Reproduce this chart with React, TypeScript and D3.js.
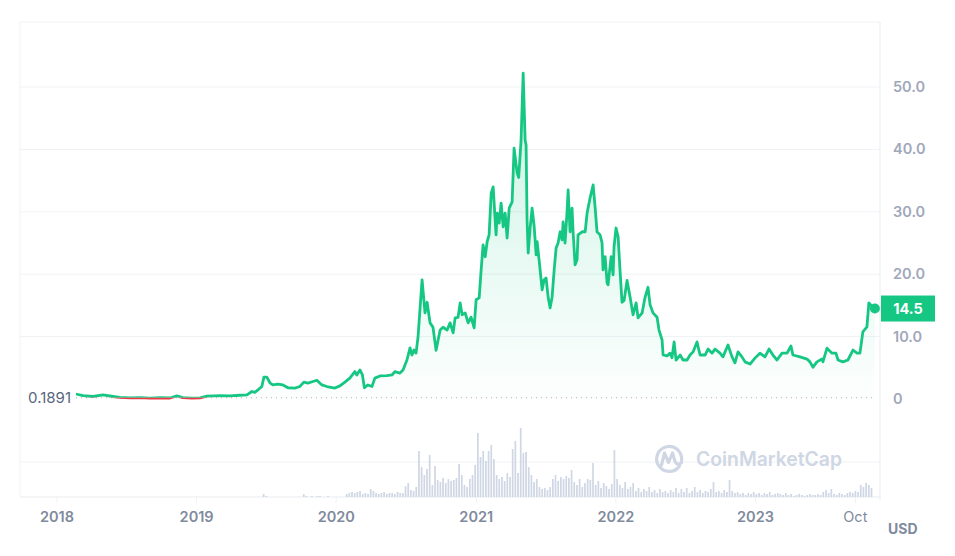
import React from "react";
import * as d3 from "d3";

// ---- data (decimal year, price USD) ----
const priceSeries: [number, number][] = [
  [2018.136, 0.8], [2018.186, 0.55], [2018.258, 0.4], [2018.329, 0.65], [2018.401, 0.4], [2018.451, 0.25],
  [2018.523, 0.17], [2018.594, 0.22], [2018.666, 0.15], [2018.737, 0.2], [2018.809, 0.16], [2018.859, 0.5],
  [2018.902, 0.22], [2018.966, 0.15], [2019.024, 0.18], [2019.074, 0.45], [2019.167, 0.55], [2019.238, 0.5],
  [2019.31, 0.6], [2019.36, 0.65], [2019.396, 1.2], [2019.417, 1.05], [2019.439, 1.45], [2019.467, 2.0],
  [2019.482, 3.5], [2019.503, 3.5], [2019.525, 2.6], [2019.546, 2.25], [2019.582, 2.4], [2019.618, 2.25],
  [2019.654, 1.8], [2019.704, 1.75], [2019.739, 2.0], [2019.768, 2.7], [2019.797, 2.55], [2019.833, 2.8],
  [2019.861, 3.0], [2019.897, 2.25], [2019.933, 2.0], [2019.99, 1.75], [2020.026, 2.1], [2020.062, 2.7],
  [2020.097, 3.35], [2020.133, 4.4], [2020.147, 3.85], [2020.169, 4.65], [2020.187, 3.85], [2020.201, 1.8],
  [2020.226, 2.25], [2020.255, 2.0], [2020.276, 3.35], [2020.312, 3.7], [2020.362, 3.75], [2020.398, 3.85],
  [2020.419, 4.4], [2020.455, 4.15], [2020.477, 4.65], [2020.505, 6.25], [2020.527, 8.2], [2020.541, 7.05],
  [2020.555, 7.85], [2020.57, 7.35], [2020.584, 9.9], [2020.613, 19.1], [2020.634, 13.8], [2020.649, 15.5],
  [2020.67, 12.2], [2020.691, 11.5], [2020.713, 7.8], [2020.742, 11.05], [2020.763, 11.5], [2020.792, 11.05],
  [2020.813, 12.2], [2020.835, 10.6], [2020.849, 13.0], [2020.87, 13.1], [2020.885, 15.4], [2020.899, 13.5],
  [2020.921, 13.8], [2020.942, 12.2], [2020.963, 13.1], [2020.985, 11.4], [2020.999, 15.9], [2021.021, 16.2],
  [2021.035, 20.7], [2021.049, 24.7], [2021.064, 22.8], [2021.078, 25.2], [2021.092, 26.3], [2021.107, 33.0],
  [2021.121, 34.0], [2021.142, 26.3], [2021.15, 29.8], [2021.164, 28.2], [2021.178, 31.4], [2021.193, 27.6],
  [2021.207, 29.8], [2021.221, 25.8], [2021.236, 30.6], [2021.257, 31.6], [2021.271, 40.2], [2021.293, 36.2],
  [2021.304, 35.5], [2021.321, 41.5], [2021.336, 52.2], [2021.35, 41.5], [2021.357, 40.7], [2021.364, 28.7],
  [2021.372, 23.4], [2021.386, 27.4], [2021.4, 30.6], [2021.415, 27.6], [2021.429, 23.1], [2021.436, 25.2],
  [2021.45, 22.3], [2021.472, 17.5], [2021.486, 19.1], [2021.5, 19.4], [2021.515, 16.3], [2021.529, 14.6],
  [2021.543, 16.3], [2021.558, 20.7], [2021.572, 24.2], [2021.586, 25.0], [2021.601, 26.8], [2021.615, 25.5],
  [2021.622, 28.4], [2021.636, 25.0], [2021.651, 30.3], [2021.658, 33.5], [2021.672, 26.8], [2021.686, 30.6],
  [2021.694, 26.6], [2021.708, 21.5], [2021.722, 22.3], [2021.729, 26.3], [2021.758, 26.8], [2021.78, 26.8],
  [2021.794, 29.8], [2021.815, 32.2], [2021.837, 34.3], [2021.851, 30.8], [2021.865, 26.8], [2021.887, 26.3],
  [2021.901, 25.0], [2021.908, 20.7], [2021.923, 22.8], [2021.937, 18.6], [2021.944, 18.3], [2021.966, 22.8],
  [2021.98, 19.9], [2021.987, 24.4], [2022.001, 27.4], [2022.016, 26.0], [2022.03, 20.5], [2022.044, 15.5],
  [2022.059, 15.8], [2022.08, 19.0], [2022.102, 16.3], [2022.123, 13.5], [2022.145, 15.4], [2022.159, 13.0],
  [2022.188, 13.8], [2022.209, 16.3], [2022.23, 17.9], [2022.245, 15.1], [2022.266, 13.8], [2022.295, 13.1],
  [2022.309, 11.05], [2022.331, 9.45], [2022.338, 7.05], [2022.367, 6.9], [2022.388, 7.35], [2022.402, 6.6],
  [2022.417, 9.15], [2022.431, 6.25], [2022.46, 7.05], [2022.481, 6.25], [2022.51, 6.25], [2022.531, 7.05],
  [2022.553, 7.55], [2022.581, 9.15], [2022.603, 7.05], [2022.639, 7.05], [2022.66, 8.0], [2022.689, 7.35],
  [2022.71, 8.0], [2022.746, 7.35], [2022.767, 6.75], [2022.803, 8.65], [2022.832, 6.75], [2022.853, 5.8],
  [2022.875, 7.55], [2022.903, 6.75], [2022.925, 5.95], [2022.961, 5.6], [2022.996, 6.55], [2023.032, 7.35],
  [2023.068, 6.75], [2023.097, 8.0], [2023.125, 7.05], [2023.154, 6.25], [2023.19, 7.35], [2023.226, 7.35],
  [2023.254, 8.5], [2023.268, 7.05], [2023.319, 6.75], [2023.369, 6.4], [2023.39, 5.95], [2023.412, 5.1],
  [2023.44, 5.95], [2023.476, 6.4], [2023.483, 5.95], [2023.512, 8.15], [2023.548, 7.35], [2023.576, 7.35],
  [2023.591, 6.25], [2023.626, 5.95], [2023.662, 6.25], [2023.698, 7.85], [2023.727, 7.35], [2023.748, 7.35],
  [2023.769, 10.75], [2023.798, 11.55], [2023.812, 15.4], [2023.841, 14.7], [2023.855, 14.5],
];

const baselinePrice = 0.1891;
const baselineLabel = "0.1891";
const currentPrice = 14.5;
const currentLabel = "14.5";

// weekly volume (relative units), first week starting at volumeStartYear
const volumeStartYear = 2019.48;
const volumes: number[] = [
  3, 1, 0, 0, 0, 0, 0, 0, 0, 0, 0, 0, 0, 0, 0, 3, 1, 0, 1, 0, 1, 1, 0, 0, 1, 0, 0, 0, 0, 0, 0,
  3, 4, 5, 4, 5, 6, 3, 4, 3, 8, 6,
  4, 3, 4, 5, 3, 4, 4, 3, 5, 4,
  4, 11, 14, 7, 6,
  10, 46, 30, 22, 28, 42, 12, 31, 17, 15, 19, 14, 18, 16, 17, 19, 33, 22, 12, 10,
  18, 22, 32, 64, 40, 46, 36, 46, 52, 38, 22, 18, 20, 16, 24, 20, 48, 56, 24, 69,
  44, 45, 30, 22, 15, 18, 10, 8, 9, 7, 10, 18, 22, 16, 20, 18, 21, 19, 27, 15,
  12, 18, 10, 14, 18, 17, 34, 12, 16, 9, 14, 11, 8, 13, 47, 18, 12, 9, 15, 8,
  10, 14, 6, 9, 5, 8, 6, 10, 5, 7, 4, 8, 5, 6, 4, 7, 5, 9, 4, 8,
  5, 9, 4, 6, 10, 5, 7, 4, 6, 5, 8, 15, 5, 6, 4, 7, 5, 17, 6, 4,
  5, 3, 4, 2, 4, 3, 5, 3, 4, 2, 4, 3, 5, 2, 3, 4, 3, 2, 4, 2,
  3, 1, 2, 3, 2, 1, 2, 3, 2, 2, 3, 2, 5, 7, 4, 8, 3, 2, 4, 3,
  2, 4, 5, 4, 6, 5, 12, 10, 14, 12, 9,
];

const priceTicks = [0, 10, 20, 30, 40, 50];
const timeTicks = [2018, 2019, 2020, 2021, 2022, 2023, 2023.715];
const timeTickLabels = ["2018", "2019", "2020", "2021", "2022", "2023", "Oct"];

const DAY = 864e5;
function yearToDate(y: number): Date {
  const yr = Math.floor(y);
  const start = Date.UTC(yr, 0, 1);
  const end = Date.UTC(yr + 1, 0, 1);
  return new Date(start + (y - yr) * (end - start));
}

const GREEN = "#16c784";
const RED = "#ea3943";
const GRID = "#eff2f5";
const FONT = "Inter, 'Noto Sans', sans-serif";

export default function App() {
  const W = 955;
  const H = 556;
  const left = 20;
  const right = 880;
  const top = 22;
  const bottom = 497;

  const x = d3.scaleUtc().domain([yearToDate(2018), yearToDate(2023)]).range([57, 755.5]);
  const y = d3.scaleLinear().domain([0, 50]).range([399, 87]);
  const yVol = d3.scaleLinear().domain([0, 70]).range([bottom, 427]);

  const px = (d: [number, number]) => x(yearToDate(d[0]));
  const line = d3.line<[number, number]>().x(px).y((d) => y(d[1]));
  const yBase = y(baselinePrice);
  const area = d3.area<[number, number]>().x(px).y0(yBase).y1((d) => y(d[1]));

  const first = priceSeries[0];
  const last = priceSeries[priceSeries.length - 1];
  const volStart = yearToDate(volumeStartYear).getTime();

  return (
    <svg width={W} height={H} style={{ position: "absolute", left: 0, top: 0, background: "#fff" }} fontFamily={FONT}>
      <defs>
        <linearGradient id="gFill" gradientUnits="userSpaceOnUse" x1="0" y1={y(52)} x2="0" y2={yBase}>
          <stop offset="0" stopColor={GREEN} stopOpacity={0.22} />
          <stop offset="1" stopColor={GREEN} stopOpacity={0.01} />
        </linearGradient>
        <clipPath id="above">
          <rect x={0} y={0} width={W} height={yBase} />
        </clipPath>
        <clipPath id="below">
          <rect x={0} y={yBase} width={W} height={60} />
        </clipPath>
      </defs>

      {/* frame */}
      <line x1={left} x2={right} y1={top} y2={top} stroke={GRID} />
      <line x1={left} x2={left} y1={top} y2={bottom} stroke={GRID} />
      <line x1={right} x2={right} y1={top} y2={bottom + 3} stroke={GRID} strokeWidth={1.5} />
      <line x1={left} x2={right} y1={bottom} y2={bottom} stroke={GRID} strokeWidth={1.5} />

      {/* grid */}
      {priceTicks.filter((t) => t > 0).map((t) => (
        <line key={t} x1={left} x2={right} y1={y(t)} y2={y(t)} stroke={GRID} />
      ))}
      <line x1={left} x2={right} y1={462} y2={462} stroke={GRID} />

      {/* volume */}
      {volumes.map((v, i) => {
        if (v <= 0) return null;
        const cx = x(new Date(volStart + i * 7 * DAY));
        return (
          <rect key={i} x={cx - 0.85} y={yVol(v)} width={1.7} height={bottom - yVol(v)} fill="#cfd6e4" />
        );
      })}

      {/* watermark */}
      <g stroke="#cfd6e4" strokeWidth={3.2} fill="none" strokeLinecap="round" strokeLinejoin="round">
        <path d="M 679.5 466 A 12.5 12.5 0 1 1 681.5 461" />
        <path d="M 661.5 465 L 664.5 453 L 668.5 462.5 L 672.5 453 L 675 461.5 Q 677.5 466.5 681.5 462.5" />
      </g>
      <text x={696} y={466} fontSize={20} fontWeight={600} fill="#cfd6e4" textLength={146} lengthAdjust="spacingAndGlyphs">
        CoinMarketCap
      </text>

      {/* area + line */}
      <path d={area(priceSeries) || ""} fill="url(#gFill)" clipPath="url(#above)" />
      <path d={area(priceSeries) || ""} fill={RED} fillOpacity={0.1} clipPath="url(#below)" />
      <line x1={px(first)} x2={px(last)} y1={yBase} y2={yBase} stroke="#a6b0c3" strokeDasharray="1 4" strokeWidth={1} />
      <path d={line(priceSeries) || ""} fill="none" stroke={GREEN} strokeWidth={2.8} strokeLinejoin="round" clipPath="url(#above)" />
      <path d={line(priceSeries) || ""} fill="none" stroke={RED} strokeWidth={2.8} strokeLinejoin="round" clipPath="url(#below)" />
      <circle cx={px(last)} cy={y(last[1])} r={5} fill={GREEN} />

      {/* baseline label */}
      <text x={71} y={yBase + 5} textAnchor="end" fontSize={15} fill="#58667e">{baselineLabel}</text>

      {/* price axis */}
      {priceTicks.map((t) => (
        <text key={t} x={893} y={y(t) + 5} fontSize={14.5} fontWeight={600} fill="#a1a7bb">
          {t === 0 ? "0" : d3.format(".1f")(t)}
        </text>
      ))}
      <rect x={881} y={y(currentPrice) - 13} width={54} height={26} fill={GREEN} />
      <text x={908} y={y(currentPrice) + 5} textAnchor="middle" fontSize={14.5} fontWeight={700} fill="#fff">
        {currentLabel}
      </text>

      {/* time axis */}
      {timeTicks.map((t, i) => {
        const tx = x(yearToDate(t));
        return (
          <g key={t}>
            <line x1={tx} x2={tx} y1={bottom} y2={bottom + 6} stroke={GRID} />
            <text x={tx} y={522} textAnchor="middle" fontSize={14.5} fontWeight={i < 6 ? 600 : 400} fill="#808a9d">
              {timeTickLabels[i]}
            </text>
          </g>
        );
      })}
      <text x={888} y={534} fontSize={14} fontWeight={700} fill="#808a9d">USD</text>
    </svg>
  );
}
